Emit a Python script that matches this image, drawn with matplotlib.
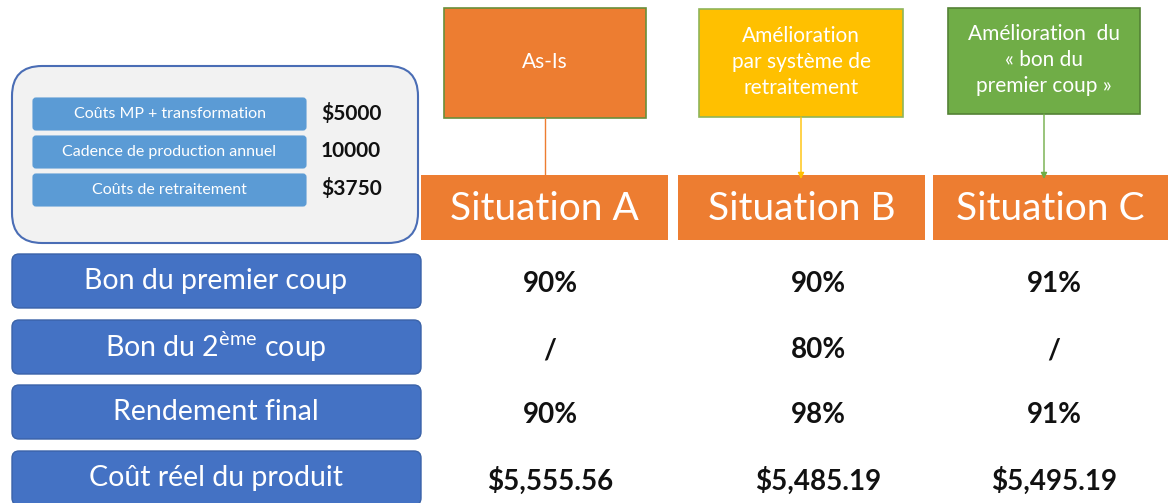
import matplotlib.pyplot as plt
from matplotlib.patches import FancyBboxPatch, Rectangle

plt.rcParams['font.family'] = ['Lato', 'DejaVu Sans']
plt.rcParams['mathtext.fontset'] = 'custom'
plt.rcParams['mathtext.rm'] = 'Lato'

# Data
param_labels = ['Coûts MP + transformation', 'Cadence de production annuel', 'Coûts de retraitement']
param_values = ['$5000', '10000', '$3750']

situations = ['Situation A', 'Situation B', 'Situation C']
scenario_notes = ['As-Is', 'Amélioration\npar système de\nretraitement',
                  'Amélioration  du\n« bon du\npremier coup »']
note_colors = ['#ed7d31', '#ffc000', '#70ad47']

row_labels = ['Bon du premier coup', 'Bon du 2$^{\\mathrm{ème}}$ coup',
              'Rendement final', 'Coût réel du produit']
sit_a = ['90%', '/', '90%', '$5,555.56']
sit_b = ['90%', '80%', '98%', '$5,485.19']
sit_c = ['91%', '/', '91%', '$5,495.19']

fig = plt.figure(figsize=(11.68, 5.03), dpi=100)
ax = fig.add_axes([0, 0, 1, 1])
ax.set_xlim(0, 1168)
ax.set_ylim(503, 0)
ax.axis('off')

# parameter panel
ax.add_patch(FancyBboxPatch((12, 66), 406, 177, boxstyle='round,pad=0,rounding_size=30',
                            fc='#f2f2f2', ec='#4a6db5', lw=1.5))
for i, (lab, val) in enumerate(zip(param_labels, param_values)):
    y0 = 98 + i * 38
    ax.add_patch(FancyBboxPatch((33, y0), 273, 32, boxstyle='round,pad=0,rounding_size=3',
                                fc='#5b9bd5', ec='#5b9bd5', lw=0.8))
    ax.text(169.5, y0 + 16, lab, color='white', fontsize=11.5, ha='center', va='center')
    ax.text(321, y0 + 15, val.replace('$', r'\$'), color='#111111', fontsize=15,
            fontweight='bold', ha='left', va='center')

# scenario notes and situation headers
note_boxes = [(444, 8, 202, 110), (699, 9, 204, 108), (948, 8, 192, 106)]
note_edges = ['#6a8f3a', '#8fb55a', '#548235']
sit_boxes = [(421, 175, 247, 65), (678, 175, 247, 65), (933, 175, 235, 65)]
for k in range(3):
    x, y, w, h = note_boxes[k]
    ax.add_patch(Rectangle((x, y), w, h, fc=note_colors[k], ec=note_edges[k], lw=1.2))
    ax.text(x + w / 2, y + h / 2 - 1, scenario_notes[k], color='white', fontsize=15,
            ha='center', va='center', linespacing=1.4)
    sx, sy, sw, sh = sit_boxes[k]
    ax.add_patch(Rectangle((sx, sy), sw, sh, fc='#ed7d31', ec='none'))
    ax.text(sx + sw / 2, sy + sh / 2 + 1, situations[k], color='white', fontsize=28,
            ha='center', va='center')
    cx = x + w / 2
    if k == 0:
        ax.plot([cx, cx], [y + h, sy], color=note_colors[k], lw=1)
    else:
        ax.annotate('', xy=(cx, sy + 4), xytext=(cx, y + h),
                    arrowprops=dict(arrowstyle='-|>', color=note_colors[k], lw=1,
                                    mutation_scale=9, shrinkA=0, shrinkB=0))

# table rows
col_x = [550, 818, 1054]
row_y = [281, 347, 412, 478]
for r, lab in enumerate(row_labels):
    yc = row_y[r]
    ax.add_patch(FancyBboxPatch((12, yc - 27), 409, 54, boxstyle='round,pad=0,rounding_size=7',
                                fc='#4472c4', ec='#3a62a8', lw=1))
    ax.text(216, yc, lab, color='white', fontsize=20.5, ha='center', va='center')
    for c, vals in enumerate([sit_a, sit_b, sit_c]):
        ax.text(col_x[c], yc + 3, vals[r].replace('$', r'\$'), color='#111111', fontsize=20,
                fontweight='bold', ha='center', va='center')

fig.savefig('out.png', dpi=100)
